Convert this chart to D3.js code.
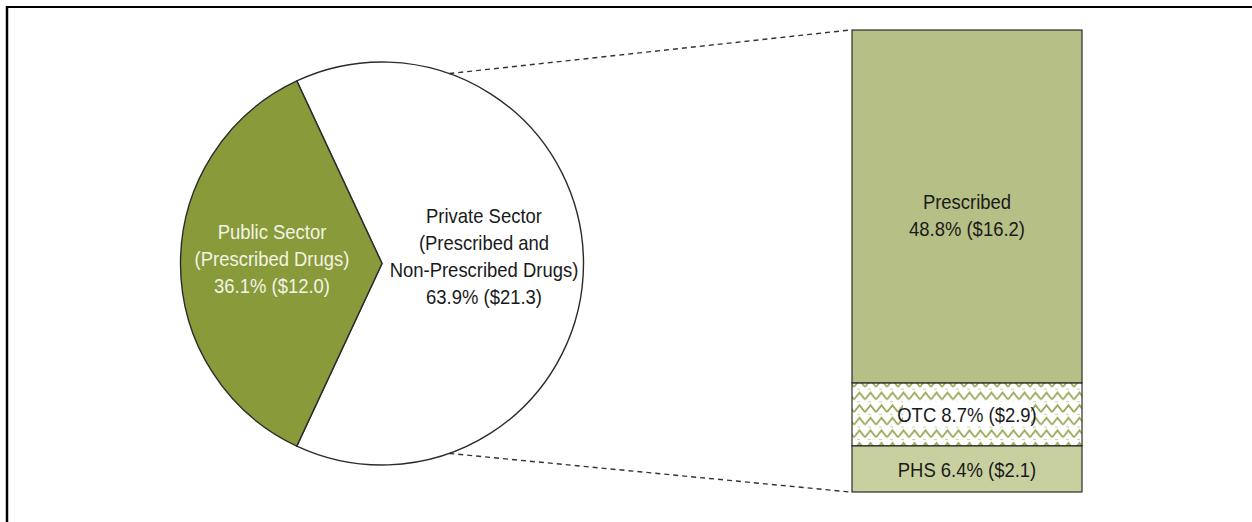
<!DOCTYPE html>
<html>
<head>
<meta charset="utf-8">
<script src="https://cdn.jsdelivr.net/npm/d3@7"></script>
<style>
  body { margin: 0; background: #fff; }
  svg { display: block; font-family: "Liberation Sans", Arial, sans-serif; }
</style>
</head>
<body>
<div id="chart"></div>
<script>
// pie: share of total spending
const pieKeys = ["private", "public"];
const pieLines = [
  ["Private Sector", "(Prescribed and", "Non-Prescribed Drugs)"],
  ["Public Sector", "(Prescribed Drugs)"]
];
const piePct = [63.9, 36.1];
const pieDollars = [21.3, 12.0];

// breakdown of the private sector, bottom to top
const barKeys = ["phs", "otc", "prescribed"];
const barNames = ["PHS", "OTC", "Prescribed"];
const barPct = [6.4, 8.7, 48.8];
const barDollars = [2.1, 2.9, 16.2];

const W = 1252, H = 522;
const cx = 382, cy = 263.5, R = 201.5;
const bx0 = 852, bx1 = 1082, by0 = 30, by1 = 492;
const linkAngle = 19.5 * Math.PI / 180;
const fs = 20.5, sx = 0.9, lh = 27;

const svg = d3.select("#chart").append("svg")
    .attr("width", W)
    .attr("height", H);

// squeeze text a little horizontally, like the original
function squeeze(sel, x) {
    sel.attr("transform", `translate(${x},0) scale(${sx},1) translate(${-x},0)`);
}

// zigzag pattern for OTC
const defs = svg.append("defs");
const pat = defs.append("pattern")
    .attr("id", "zig")
    .attr("patternUnits", "userSpaceOnUse")
    .attr("width", 11)
    .attr("height", 12.6)
    .attr("x", bx0 + 2)
    .attr("y", 0);
pat.append("rect").attr("width", 11).attr("height", 12.6).attr("fill", "#fff");
pat.append("path")
    .attr("d", "M0,9 L5.5,2 L11,9")
    .attr("fill", "none")
    .attr("stroke", "#9aab5c")
    .attr("stroke-width", 1.8);
pat.append("line")
    .attr("x1", 3).attr("x2", 6).attr("y1", 11.2).attr("y2", 11.2)
    .attr("stroke", "#c5cfa0")
    .attr("stroke-width", 1);

// frame
svg.append("line").attr("x1", 7).attr("x2", W).attr("y1", 7).attr("y2", 7)
    .attr("stroke", "#000").attr("stroke-width", 2);
svg.append("line").attr("x1", 7).attr("x2", 7).attr("y1", 6).attr("y2", H)
    .attr("stroke", "#000").attr("stroke-width", 2.5);

// pie
const pieStart = Math.PI / 2 - Math.PI * piePct[0] / 100;
const pie = d3.pie().sort(null)
    .startAngle(pieStart)
    .endAngle(pieStart + 2 * Math.PI);
const arc = d3.arc().innerRadius(0).outerRadius(R);
const arcs = pie(piePct);
const pieFill = d3.scaleOrdinal().domain(pieKeys).range(["#ffffff", "#899a3b"]);

const pg = svg.append("g").attr("transform", `translate(${cx},${cy})`);
pg.selectAll("path")
    .data(arcs)
    .enter()
    .append("path")
    .attr("d", arc)
    .attr("fill", (d, i) => pieFill(pieKeys[i]))
    .attr("stroke", "#2b2b2b")
    .attr("stroke-width", 1.4)
    .attr("stroke-linejoin", "miter");

// pie labels
const pieLabelPos = [[102, -48], [-110, -32]];
const pieLabelColor = ["#1a1a1a", "#f3f3e4"];
arcs.forEach((d, i) => {
    let lines = pieLines[i].concat([piePct[i].toFixed(1) + "% ($" + pieDollars[i].toFixed(1) + ")"]);
    let t = pg.append("text")
        .attr("text-anchor", "middle")
        .attr("font-size", fs)
        .attr("fill", pieLabelColor[i]);
    lines.forEach((l, k) => {
        t.append("tspan")
            .attr("x", pieLabelPos[i][0])
            .attr("y", pieLabelPos[i][1] + k * lh)
            .attr("dy", "0.35em")
            .text(l);
    });
    squeeze(t, pieLabelPos[i][0]);
});

// bar
const barTotal = d3.sum(barPct);
const y = d3.scaleLinear().domain([0, barTotal]).range([by1, by0]);
const stacked = [];
let acc = 0;
barPct.forEach((v, i) => { stacked.push({key: barKeys[i], y0: acc, y1: acc + v, i: i}); acc += v; });
const barFill = d3.scaleOrdinal().domain(barKeys).range(["#c9d0a0", "url(#zig)", "#b6c086"]);

svg.selectAll("rect.seg")
    .data(stacked)
    .enter()
    .append("rect")
    .attr("class", "seg")
    .attr("x", bx0)
    .attr("width", bx1 - bx0)
    .attr("y", d => y(d.y1))
    .attr("height", d => y(d.y0) - y(d.y1))
    .attr("fill", d => barFill(d.key))
    .attr("stroke", "#2b2b2b")
    .attr("stroke-width", 1.2);

// bar labels
const bcx = (bx0 + bx1) / 2;
stacked.forEach(d => {
    let mid = (y(d.y0) + y(d.y1)) / 2;
    let txt = barPct[d.i].toFixed(1) + "% ($" + barDollars[d.i].toFixed(1) + ")";
    if (d.key === "prescribed") {
        let t = svg.append("text").attr("text-anchor", "middle").attr("font-size", fs).attr("fill", "#1a1a1a");
        t.append("tspan").attr("x", bcx).attr("y", 202).attr("dy", "0.35em").text(barNames[d.i]);
        t.append("tspan").attr("x", bcx).attr("y", 229).attr("dy", "0.35em").text(txt);
        squeeze(t, bcx);
    } else {
        let label = barNames[d.i] + " " + txt;
        if (d.key === "otc") {
            svg.append("rect")
                .attr("x", bcx - 64).attr("y", mid - 13)
                .attr("width", 128).attr("height", 25)
                .attr("fill", "#fff");
        }
        let t = svg.append("text")
            .attr("x", bcx)
            .attr("y", mid + 1)
            .attr("dy", "0.35em")
            .attr("text-anchor", "middle")
            .attr("font-size", fs)
            .attr("fill", "#1a1a1a")
            .text(label);
        squeeze(t, bcx);
    }
});

// connector lines
const links = [
    [cx + R * Math.sin(linkAngle), cy - R * Math.cos(linkAngle), bx0, y(barTotal)],
    [cx + R * Math.sin(linkAngle), cy + R * Math.cos(linkAngle), bx0, y(0)]
];
svg.selectAll("line.link")
    .data(links)
    .enter()
    .append("line")
    .attr("class", "link")
    .attr("x1", d => d[0]).attr("y1", d => d[1])
    .attr("x2", d => d[2] - 2).attr("y2", d => d[3])
    .attr("stroke", "#333")
    .attr("stroke-width", 1.4)
    .attr("stroke-dasharray", "5,4");
</script>
</body>
</html>
